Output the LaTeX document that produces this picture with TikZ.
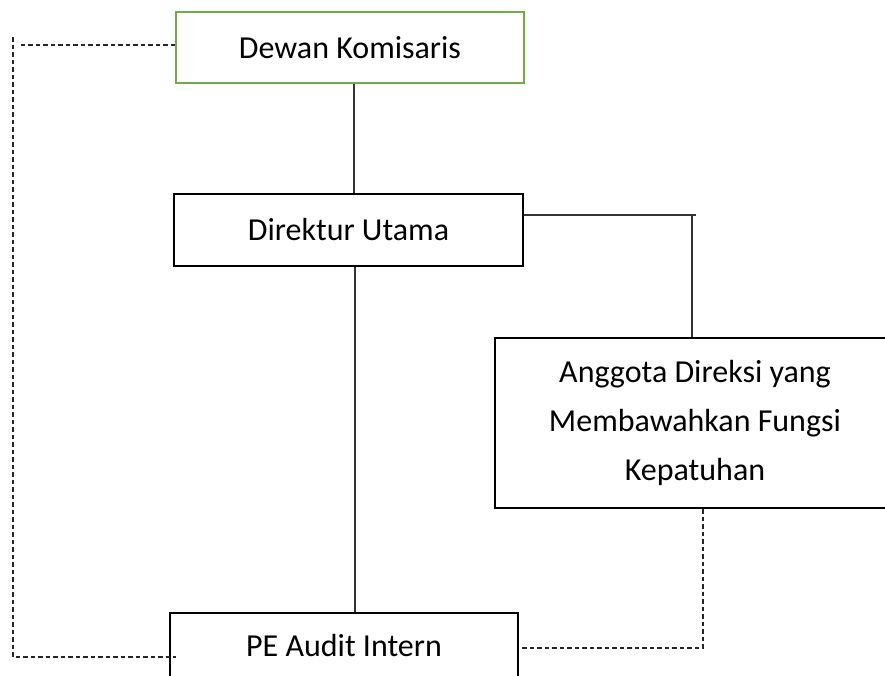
\documentclass[tikz,border=0pt]{standalone}
\usepackage{fontspec}
\setmainfont{Carlito}
\definecolor{kgreen}{HTML}{70AD47}
\tikzset{
  box/.style={draw=black, line width=2.6pt, minimum width=348pt, minimum height=72pt, inner sep=0pt, font=\fontsize{32}{49}\selectfont, align=center},
  conn/.style={draw=black!80, line width=1.2pt},
  dashconn/.style={draw=black!85, line width=1.2pt, dash pattern=on 4.5pt off 3pt},
}
\begin{document}
\begin{tikzpicture}[x=1pt, y=-1pt]
\useasboundingbox (0,0) rectangle (885,675);
\fill[white] (0,0) rectangle (885,675);
\node[box, draw=kgreen, line width=2pt, minimum height=71pt] (dk) at (350,47.5) {Dewan Komisaris};
\node[box, minimum width=349pt] (du) at (348.5,230) {Direktur Utama};
\node[box, minimum width=400pt, minimum height=170pt] (ag) at (695,423) {Anggota Direksi yang\\Membawahkan Fungsi\\Kepatuhan};
\node[box] (pe) at (344,649) {};
\node[font=\fontsize{32}{49}\selectfont, inner sep=0pt] (pet) at (344,645) {PE Audit Intern};
\coordinate (vx) at (354,0);
\coordinate (j) at (692,215);
\coordinate (je) at (696,215);
\coordinate (lt) at (13,37);
\coordinate (lm) at (20,45);
\coordinate (lb) at (13,657);
\coordinate (lbe) at (176,657);
\coordinate (rb) at (703,648);
\draw[conn] (vx |- dk.south) -- (vx |- du.north);
\draw[conn] ([xshift=1pt]vx |- du.south) -- ([xshift=1pt]vx |- pe.north);
\draw[conn] (du.east |- j) -- (je);
\draw[conn] (j) -- (j |- ag.north);
\draw[dashconn] (dk.west |- lm) -- (lm);
\draw[dashconn] (lt) -- (lb) -- (lbe);
\draw[dashconn] (rb |- ag.south) -- (rb) -- (pe.east |- rb);
\end{tikzpicture}
\end{document}
